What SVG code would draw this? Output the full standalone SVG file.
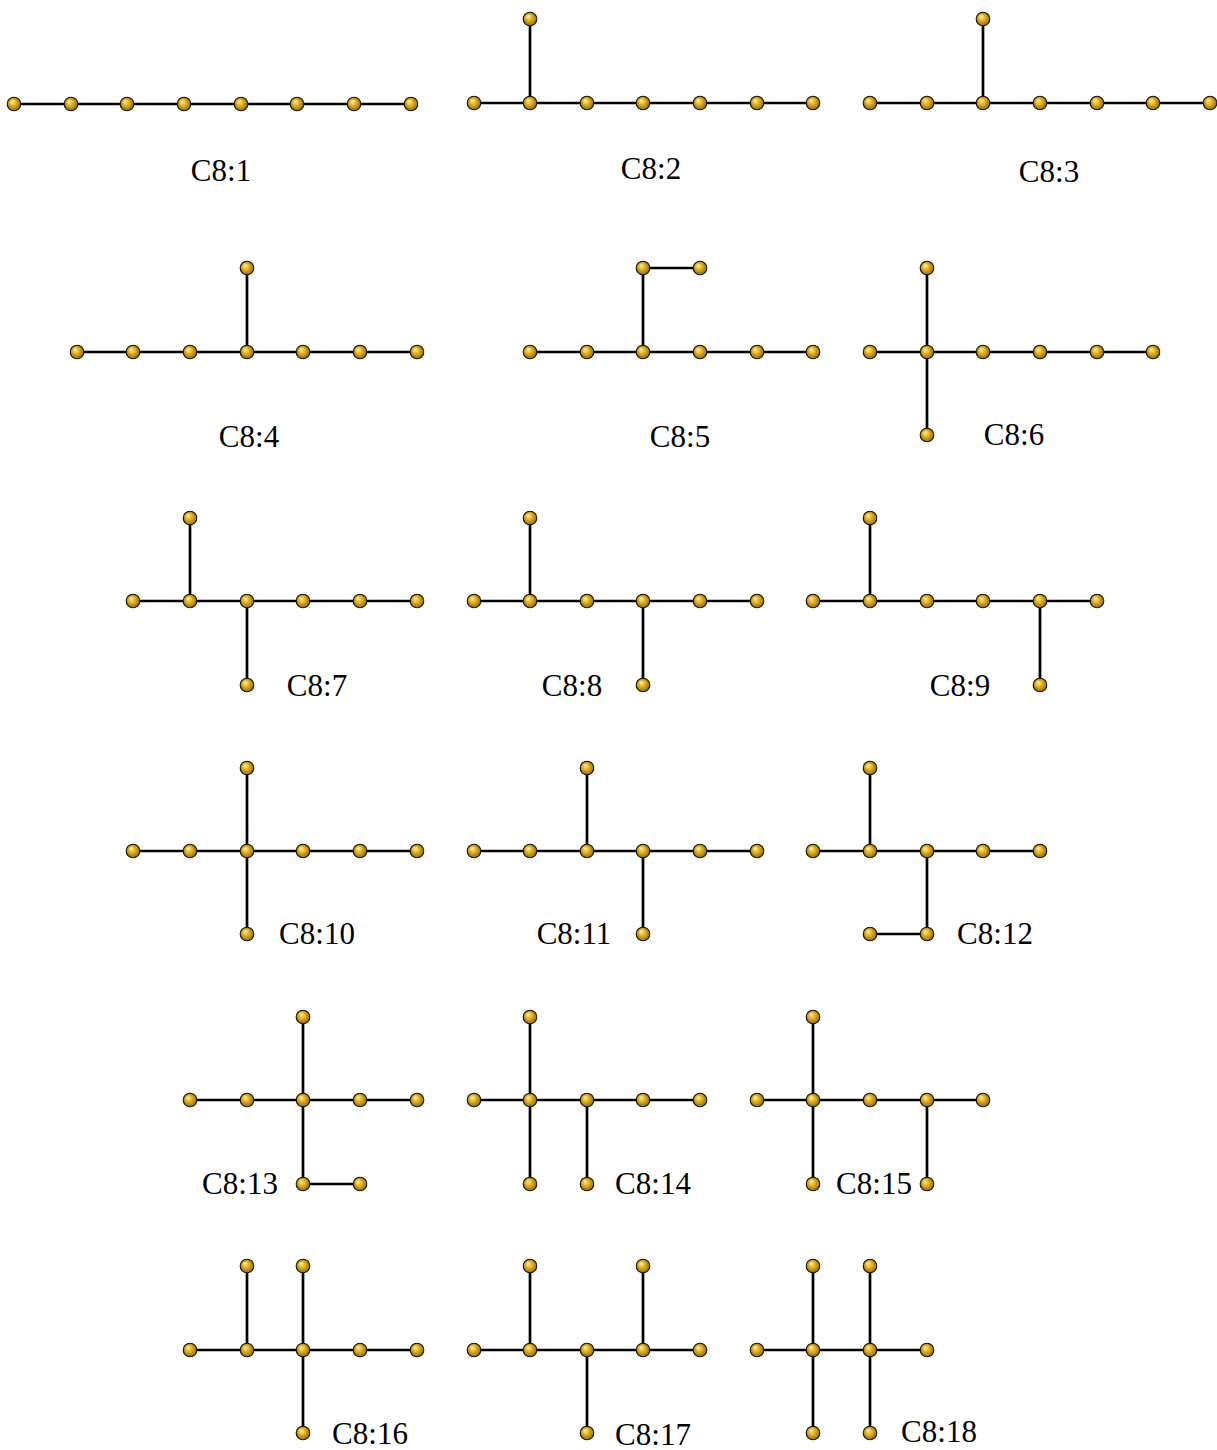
<svg xmlns="http://www.w3.org/2000/svg" width="1217" height="1450" viewBox="0 0 1217 1450">
<defs>
<radialGradient id="ball" cx="0.5" cy="0.5" r="0.55" fx="0.35" fy="0.3">
<stop offset="0" stop-color="#fff3a8"/>
<stop offset="0.45" stop-color="#e2b024"/>
<stop offset="1" stop-color="#8a6200"/>
</radialGradient>
<symbol id="n" overflow="visible"><circle r="6.8" cx="0" cy="0" fill="url(#ball)" stroke="#1a1400" stroke-width="1.1"/></symbol>
</defs>
<style>
.e{stroke:#000;stroke-width:2.7;fill:none;stroke-linecap:round}
.lbl{font-family:"Liberation Serif","DejaVu Serif",serif;font-size:31px;fill:#000;text-anchor:middle}
</style>
<rect width="1217" height="1450" fill="#fff"/>
<g id="connectors">
<path class="e" d="M14 104H411"/>
<path class="e" d="M474 103H813M530 103V19"/>
<path class="e" d="M870 103H1210M983 103V19"/>
<path class="e" d="M77 352H417M247 352V268"/>
<path class="e" d="M530 352H813M643 352V268H700"/>
<path class="e" d="M870 352H1153M927 268V435"/>
<path class="e" d="M133 601H417M190 601V518M247 601V685"/>
<path class="e" d="M474 601H757M530 601V518M643 601V685"/>
<path class="e" d="M813 601H1097M870 601V518M1040 601V685"/>
<path class="e" d="M133 851H417M247 768V934"/>
<path class="e" d="M474 851H757M587 851V768M643 851V934"/>
<path class="e" d="M813 851H1040M870 851V768M927 851V934H870"/>
<path class="e" d="M190 1100H417M303 1017V1184H360"/>
<path class="e" d="M474 1100H700M530 1017V1184M587 1100V1184"/>
<path class="e" d="M757 1100H983M813 1017V1184M927 1100V1184"/>
<path class="e" d="M190 1350H417M247 1350V1266M303 1266V1433"/>
<path class="e" d="M474 1350H700M530 1350V1266M587 1350V1433M643 1350V1266"/>
<path class="e" d="M757 1350H927M813 1266V1433M870 1266V1433"/>
</g>
<g id="C8-1">
<g id="g1n1"><use href="#n" x="14" y="104"/></g>
<g id="g1n2"><use href="#n" x="71" y="104"/></g>
<g id="g1n3"><use href="#n" x="127" y="104"/></g>
<g id="g1n4"><use href="#n" x="184" y="104"/></g>
<g id="g1n5"><use href="#n" x="241" y="104"/></g>
<g id="g1n6"><use href="#n" x="297" y="104"/></g>
<g id="g1n7"><use href="#n" x="354" y="104"/></g>
<g id="g1n8"><use href="#n" x="411" y="104"/></g>
<text class="lbl" x="221" y="181">C8:1</text>
</g>
<g id="C8-2">
<g id="g2n1"><use href="#n" x="474" y="103"/></g>
<g id="g2n2"><use href="#n" x="530" y="103"/></g>
<g id="g2n3"><use href="#n" x="587" y="103"/></g>
<g id="g2n4"><use href="#n" x="643" y="103"/></g>
<g id="g2n5"><use href="#n" x="700" y="103"/></g>
<g id="g2n6"><use href="#n" x="757" y="103"/></g>
<g id="g2n7"><use href="#n" x="813" y="103"/></g>
<g id="g2n8"><use href="#n" x="530" y="19"/></g>
<text class="lbl" x="651" y="179">C8:2</text>
</g>
<g id="C8-3">
<g id="g3n1"><use href="#n" x="870" y="103"/></g>
<g id="g3n2"><use href="#n" x="927" y="103"/></g>
<g id="g3n3"><use href="#n" x="983" y="103"/></g>
<g id="g3n4"><use href="#n" x="1040" y="103"/></g>
<g id="g3n5"><use href="#n" x="1097" y="103"/></g>
<g id="g3n6"><use href="#n" x="1153" y="103"/></g>
<g id="g3n7"><use href="#n" x="1210" y="103"/></g>
<g id="g3n8"><use href="#n" x="983" y="19"/></g>
<text class="lbl" x="1049" y="182">C8:3</text>
</g>
<g id="C8-4">
<g id="g4n1"><use href="#n" x="77" y="352"/></g>
<g id="g4n2"><use href="#n" x="133" y="352"/></g>
<g id="g4n3"><use href="#n" x="190" y="352"/></g>
<g id="g4n4"><use href="#n" x="247" y="352"/></g>
<g id="g4n5"><use href="#n" x="303" y="352"/></g>
<g id="g4n6"><use href="#n" x="360" y="352"/></g>
<g id="g4n7"><use href="#n" x="417" y="352"/></g>
<g id="g4n8"><use href="#n" x="247" y="268"/></g>
<text class="lbl" x="249" y="447">C8:4</text>
</g>
<g id="C8-5">
<g id="g5n1"><use href="#n" x="530" y="352"/></g>
<g id="g5n2"><use href="#n" x="587" y="352"/></g>
<g id="g5n3"><use href="#n" x="643" y="352"/></g>
<g id="g5n4"><use href="#n" x="700" y="352"/></g>
<g id="g5n5"><use href="#n" x="757" y="352"/></g>
<g id="g5n6"><use href="#n" x="813" y="352"/></g>
<g id="g5n7"><use href="#n" x="643" y="268"/></g>
<g id="g5n8"><use href="#n" x="700" y="268"/></g>
<text class="lbl" x="680" y="447">C8:5</text>
</g>
<g id="C8-6">
<g id="g6n1"><use href="#n" x="870" y="352"/></g>
<g id="g6n2"><use href="#n" x="927" y="352"/></g>
<g id="g6n3"><use href="#n" x="983" y="352"/></g>
<g id="g6n4"><use href="#n" x="1040" y="352"/></g>
<g id="g6n5"><use href="#n" x="1097" y="352"/></g>
<g id="g6n6"><use href="#n" x="1153" y="352"/></g>
<g id="g6n7"><use href="#n" x="927" y="268"/></g>
<g id="g6n8"><use href="#n" x="927" y="435"/></g>
<text class="lbl" x="1014" y="445">C8:6</text>
</g>
<g id="C8-7">
<g id="g7n1"><use href="#n" x="133" y="601"/></g>
<g id="g7n2"><use href="#n" x="190" y="601"/></g>
<g id="g7n3"><use href="#n" x="247" y="601"/></g>
<g id="g7n4"><use href="#n" x="303" y="601"/></g>
<g id="g7n5"><use href="#n" x="360" y="601"/></g>
<g id="g7n6"><use href="#n" x="417" y="601"/></g>
<g id="g7n7"><use href="#n" x="190" y="518"/></g>
<g id="g7n8"><use href="#n" x="247" y="685"/></g>
<text class="lbl" x="317" y="696">C8:7</text>
</g>
<g id="C8-8">
<g id="g8n1"><use href="#n" x="474" y="601"/></g>
<g id="g8n2"><use href="#n" x="530" y="601"/></g>
<g id="g8n3"><use href="#n" x="587" y="601"/></g>
<g id="g8n4"><use href="#n" x="643" y="601"/></g>
<g id="g8n5"><use href="#n" x="700" y="601"/></g>
<g id="g8n6"><use href="#n" x="757" y="601"/></g>
<g id="g8n7"><use href="#n" x="530" y="518"/></g>
<g id="g8n8"><use href="#n" x="643" y="685"/></g>
<text class="lbl" x="572" y="696">C8:8</text>
</g>
<g id="C8-9">
<g id="g9n1"><use href="#n" x="813" y="601"/></g>
<g id="g9n2"><use href="#n" x="870" y="601"/></g>
<g id="g9n3"><use href="#n" x="927" y="601"/></g>
<g id="g9n4"><use href="#n" x="983" y="601"/></g>
<g id="g9n5"><use href="#n" x="1040" y="601"/></g>
<g id="g9n6"><use href="#n" x="1097" y="601"/></g>
<g id="g9n7"><use href="#n" x="870" y="518"/></g>
<g id="g9n8"><use href="#n" x="1040" y="685"/></g>
<text class="lbl" x="960" y="696">C8:9</text>
</g>
<g id="C8-10">
<g id="g10n1"><use href="#n" x="133" y="851"/></g>
<g id="g10n2"><use href="#n" x="190" y="851"/></g>
<g id="g10n3"><use href="#n" x="247" y="851"/></g>
<g id="g10n4"><use href="#n" x="303" y="851"/></g>
<g id="g10n5"><use href="#n" x="360" y="851"/></g>
<g id="g10n6"><use href="#n" x="417" y="851"/></g>
<g id="g10n7"><use href="#n" x="247" y="768"/></g>
<g id="g10n8"><use href="#n" x="247" y="934"/></g>
<text class="lbl" x="317" y="944">C8:10</text>
</g>
<g id="C8-11">
<g id="g11n1"><use href="#n" x="474" y="851"/></g>
<g id="g11n2"><use href="#n" x="530" y="851"/></g>
<g id="g11n3"><use href="#n" x="587" y="851"/></g>
<g id="g11n4"><use href="#n" x="643" y="851"/></g>
<g id="g11n5"><use href="#n" x="700" y="851"/></g>
<g id="g11n6"><use href="#n" x="757" y="851"/></g>
<g id="g11n7"><use href="#n" x="587" y="768"/></g>
<g id="g11n8"><use href="#n" x="643" y="934"/></g>
<text class="lbl" x="574" y="944">C8:11</text>
</g>
<g id="C8-12">
<g id="g12n1"><use href="#n" x="813" y="851"/></g>
<g id="g12n2"><use href="#n" x="870" y="851"/></g>
<g id="g12n3"><use href="#n" x="927" y="851"/></g>
<g id="g12n4"><use href="#n" x="983" y="851"/></g>
<g id="g12n5"><use href="#n" x="1040" y="851"/></g>
<g id="g12n6"><use href="#n" x="870" y="768"/></g>
<g id="g12n7"><use href="#n" x="927" y="934"/></g>
<g id="g12n8"><use href="#n" x="870" y="934"/></g>
<text class="lbl" x="995" y="944">C8:12</text>
</g>
<g id="C8-13">
<g id="g13n1"><use href="#n" x="190" y="1100"/></g>
<g id="g13n2"><use href="#n" x="247" y="1100"/></g>
<g id="g13n3"><use href="#n" x="303" y="1100"/></g>
<g id="g13n4"><use href="#n" x="360" y="1100"/></g>
<g id="g13n5"><use href="#n" x="417" y="1100"/></g>
<g id="g13n6"><use href="#n" x="303" y="1017"/></g>
<g id="g13n7"><use href="#n" x="303" y="1184"/></g>
<g id="g13n8"><use href="#n" x="360" y="1184"/></g>
<text class="lbl" x="240" y="1194">C8:13</text>
</g>
<g id="C8-14">
<g id="g14n1"><use href="#n" x="474" y="1100"/></g>
<g id="g14n2"><use href="#n" x="530" y="1100"/></g>
<g id="g14n3"><use href="#n" x="587" y="1100"/></g>
<g id="g14n4"><use href="#n" x="643" y="1100"/></g>
<g id="g14n5"><use href="#n" x="700" y="1100"/></g>
<g id="g14n6"><use href="#n" x="530" y="1017"/></g>
<g id="g14n7"><use href="#n" x="530" y="1184"/></g>
<g id="g14n8"><use href="#n" x="587" y="1184"/></g>
<text class="lbl" x="653" y="1194">C8:14</text>
</g>
<g id="C8-15">
<g id="g15n1"><use href="#n" x="757" y="1100"/></g>
<g id="g15n2"><use href="#n" x="813" y="1100"/></g>
<g id="g15n3"><use href="#n" x="870" y="1100"/></g>
<g id="g15n4"><use href="#n" x="927" y="1100"/></g>
<g id="g15n5"><use href="#n" x="983" y="1100"/></g>
<g id="g15n6"><use href="#n" x="813" y="1017"/></g>
<g id="g15n7"><use href="#n" x="813" y="1184"/></g>
<g id="g15n8"><use href="#n" x="927" y="1184"/></g>
<text class="lbl" x="874" y="1194">C8:15</text>
</g>
<g id="C8-16">
<g id="g16n1"><use href="#n" x="190" y="1350"/></g>
<g id="g16n2"><use href="#n" x="247" y="1350"/></g>
<g id="g16n3"><use href="#n" x="303" y="1350"/></g>
<g id="g16n4"><use href="#n" x="360" y="1350"/></g>
<g id="g16n5"><use href="#n" x="417" y="1350"/></g>
<g id="g16n6"><use href="#n" x="247" y="1266"/></g>
<g id="g16n7"><use href="#n" x="303" y="1266"/></g>
<g id="g16n8"><use href="#n" x="303" y="1433"/></g>
<text class="lbl" x="370" y="1444">C8:16</text>
</g>
<g id="C8-17">
<g id="g17n1"><use href="#n" x="474" y="1350"/></g>
<g id="g17n2"><use href="#n" x="530" y="1350"/></g>
<g id="g17n3"><use href="#n" x="587" y="1350"/></g>
<g id="g17n4"><use href="#n" x="643" y="1350"/></g>
<g id="g17n5"><use href="#n" x="700" y="1350"/></g>
<g id="g17n6"><use href="#n" x="530" y="1266"/></g>
<g id="g17n7"><use href="#n" x="587" y="1433"/></g>
<g id="g17n8"><use href="#n" x="643" y="1266"/></g>
<text class="lbl" x="653" y="1445">C8:17</text>
</g>
<g id="C8-18">
<g id="g18n1"><use href="#n" x="757" y="1350"/></g>
<g id="g18n2"><use href="#n" x="813" y="1350"/></g>
<g id="g18n3"><use href="#n" x="870" y="1350"/></g>
<g id="g18n4"><use href="#n" x="927" y="1350"/></g>
<g id="g18n5"><use href="#n" x="813" y="1266"/></g>
<g id="g18n6"><use href="#n" x="813" y="1433"/></g>
<g id="g18n7"><use href="#n" x="870" y="1266"/></g>
<g id="g18n8"><use href="#n" x="870" y="1433"/></g>
<text class="lbl" x="939" y="1442">C8:18</text>
</g>
</svg>
